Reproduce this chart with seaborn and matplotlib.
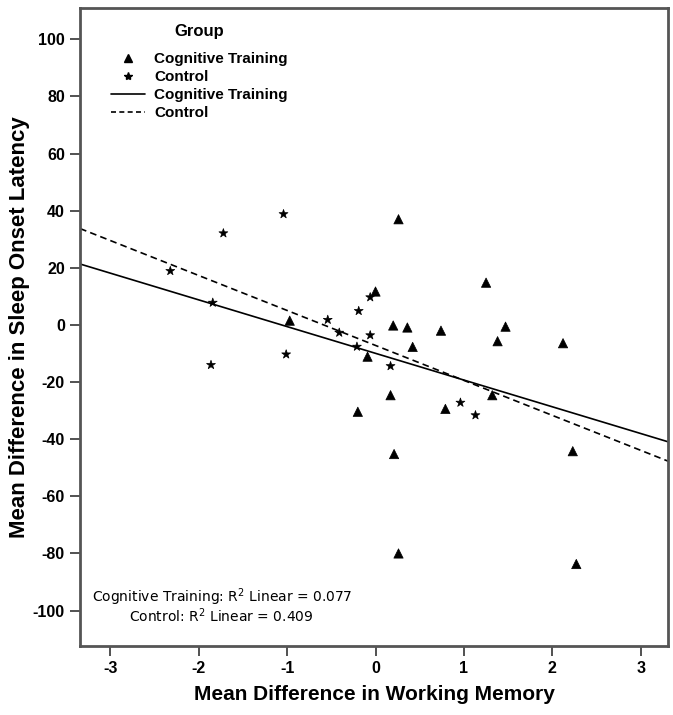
import pandas as pd
import matplotlib
matplotlib.use('Agg')
import matplotlib.pyplot as plt
import seaborn as sns
from matplotlib.lines import Line2D

# --- data ---
ct_x = [0.26, 0.00, -0.97, 0.20, 0.36, 0.74, 0.42, -0.09, 1.25, 1.47,
        1.38, 2.12, 1.32, 0.17, -0.20, 0.79, 0.21, 0.26, 2.23, 2.27]
ct_y = [37.0, 11.7, 1.5, -0.2, -0.9, -2.0, -7.7, -11.1, 14.8, -0.6,
        -5.7, -6.4, -24.6, -24.6, -30.4, -29.4, -45.2, -80.0, -44.2, -83.7]

ctrl_x = [-1.04, -0.06, -0.19, -0.54, -0.41, -0.06, -0.21, -1.01, 0.17,
          -1.72, -2.32, -1.84, -1.86, 1.13, 0.96]
ctrl_y = [38.8, 9.7, 4.9, 1.8, -2.7, -3.6, -7.6, -10.3, -14.4,
          32.1, 18.9, 7.8, -14.0, -31.6, -27.2]

groups = ['Cognitive Training', 'Control']
r2_values = [0.077, 0.409]
x_ticks = [-3, -2, -1, 0, 1, 2, 3]
y_ticks = [100, 80, 60, 40, 20, 0, -20, -40, -60, -80, -100]

df = pd.DataFrame({
    'wm': ct_x + ctrl_x,
    'sol': ct_y + ctrl_y,
    'Group': [groups[0]] * len(ct_x) + [groups[1]] * len(ctrl_x),
})

sns.set_style('white')
plt.rcParams['font.family'] = ['Liberation Sans', 'DejaVu Sans']
plt.rcParams['text.color'] = 'black'
plt.rcParams['axes.labelcolor'] = 'black'
plt.rcParams['xtick.color'] = 'black'
plt.rcParams['ytick.color'] = 'black'

fig = plt.figure(figsize=(6.73, 7.15), dpi=100)
ax = fig.add_axes([0.119, 0.0965, 0.874, 0.8925])
ax.set_xlim(-3.34, 3.31)
ax.set_ylim(-112.4, 111)

sns.scatterplot(data=df, x='wm', y='sol', style='Group', hue='Group',
                palette={groups[0]: 'black', groups[1]: 'black'},
                markers={groups[0]: '^', groups[1]: '*'},
                s=45, edgecolor='black', linewidth=0.5, legend=False, ax=ax)

# fit lines per group (extend to the axis limits)
sub = df[df['Group'] == groups[0]]
sns.regplot(data=sub, x='wm', y='sol', scatter=False, ci=None, truncate=False,
            line_kws={'color': 'black', 'lw': 1.2, 'ls': '-'}, ax=ax)
sub = df[df['Group'] == groups[1]]
sns.regplot(data=sub, x='wm', y='sol', scatter=False, ci=None, truncate=False,
            line_kws={'color': 'black', 'lw': 1.2, 'ls': (0, (4, 2.5))}, ax=ax)
ax.set_xlim(-3.34, 3.31)
ax.set_ylim(-112.4, 111)

ax.set_xticks(x_ticks)
ax.set_yticks(y_ticks)
ax.set_xticklabels([str(t) for t in x_ticks], fontsize=11.5, fontweight='bold')
ax.set_yticklabels([str(t) for t in y_ticks], fontsize=11.5, fontweight='bold')
ax.tick_params(axis='both', direction='out', length=7, width=1.2, color='#333333',
               bottom=True, left=True, pad=4)
for sp in ax.spines.values():
    sp.set_color('#555555')
    sp.set_linewidth(2)

ax.set_xlabel('Mean Difference in Working Memory', fontsize=15, fontweight='bold', labelpad=6)
ax.set_ylabel('Mean Difference in Sleep Onset Latency', fontsize=16, fontweight='bold', labelpad=2)

# legend
handles = [
    Line2D([], [], marker='^', color='black', ls='none', markersize=6),
    Line2D([], [], marker='*', color='black', ls='none', markersize=6),
    Line2D([], [], color='black', lw=1.2, ls='-'),
    Line2D([], [], color='black', lw=1.2, ls=(0, (3, 2))),
]
leg = ax.legend(handles, [groups[0], groups[1], groups[0], groups[1]],
                title='Group', loc='upper left', bbox_to_anchor=(0.03, 0.997),
                frameon=False, handlelength=2.2, handletextpad=0.6,
                labelspacing=0.25, prop={'weight': 'bold', 'size': 11})
leg.get_title().set_fontweight('bold')
leg.get_title().set_fontsize(12)
leg._legend_box.sep = 10

# R-squared notes
ax.text(0.02, 0.077, f'{groups[0]}: R$^2$ Linear = {r2_values[0]:.3f}',
        transform=ax.transAxes, fontsize=10, family='DejaVu Sans', va='center')
ax.text(0.083, 0.048, f'{groups[1]}: R$^2$ Linear = {r2_values[1]:.3f}',
        transform=ax.transAxes, fontsize=10, family='DejaVu Sans', va='center')

fig.savefig('out.png', dpi=100, facecolor='white')
